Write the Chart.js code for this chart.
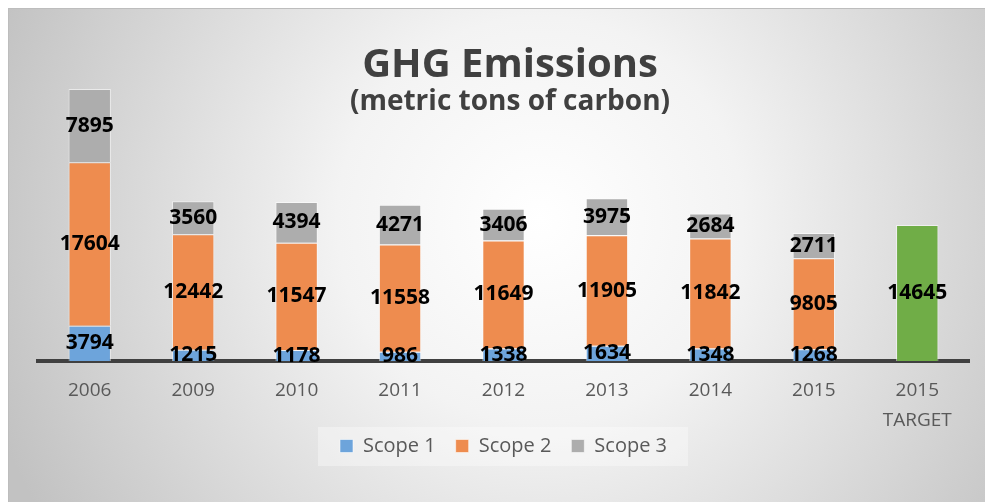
<!DOCTYPE html>
<html>
<head>
<meta charset="utf-8">
<script src="https://cdn.jsdelivr.net/npm/chart.js@4.4.0/dist/chart.umd.min.js"></script>
<style>
  html, body { margin: 0; padding: 0; background: #ffffff; }
  #wrap { position: relative; width: 985px; height: 502px; }
  #ghg { display: block; }
  .ttl {
    position: absolute; left: 10px; width: 1000px; text-align: center;
    font-family: 'Open Sans', sans-serif; font-weight: bold; color: #404040;
    pointer-events: none; white-space: nowrap;
  }
  #mainTitle { top: 34px; font-size: 40px; line-height: 56px; }
  #subTitle { top: 81px; font-size: 28px; line-height: 36px; }
</style>
</head>
<body>
<div id="wrap">
  <canvas id="ghg" width="985" height="502"></canvas>
  <div class="ttl" id="mainTitle">GHG Emissions</div>
  <div class="ttl" id="subTitle">(metric tons of carbon)</div>
</div>
<script>
// === Data ===
const years = ['2006', '2009', '2010', '2011', '2012', '2013', '2014', '2015', ['2015', 'TARGET']];
const scope1 = [3794, 1215, 1178, 986, 1338, 1634, 1348, 1268, null];
const scope2 = [17604, 12442, 11547, 11558, 11649, 11905, 11842, 9805, null];
const scope3 = [7895, 3560, 4394, 4271, 3406, 3975, 2684, 2711, null];
const target = [null, null, null, null, null, null, null, null, 14645];

// gradient backdrop + faint legend panel
const backdrop = {
  id: 'backdrop',
  afterLayout(chart) {
    // pull the legend up a bit so it sits right under the two-line tick
    const lg = chart.legend;
    if (lg) { lg.top -= 19; lg.bottom -= 19; }
  },
  beforeDraw(chart) {
    const ctx = chart.ctx;
    ctx.save();
    const g = ctx.createRadialGradient(540, 220, 0, 540, 220, 580);
    g.addColorStop(0, '#ffffff');
    g.addColorStop(0.35, '#f3f3f3');
    g.addColorStop(1, '#c2c2c2');
    ctx.fillStyle = g;
    ctx.fillRect(8, 8, chart.width - 8, chart.height - 8);
    ctx.strokeStyle = '#bdbdbd';
    ctx.lineWidth = 1;
    ctx.strokeRect(8.5, 8.5, chart.width - 8, chart.height - 8);
    ctx.fillStyle = 'rgba(255,255,255,0.35)';
    ctx.fillRect(318, 427, 370, 39);
    ctx.restore();
  }
};

// values centred in each segment
const segLabels = {
  id: 'segLabels',
  afterDatasetsDraw(chart) {
    const ctx = chart.ctx;
    ctx.save();
    ctx.font = 'bold 21px "Open Sans", sans-serif';
    ctx.fillStyle = '#000000';
    ctx.textAlign = 'center';
    ctx.textBaseline = 'middle';
    chart.data.datasets.forEach((ds, i) => {
      const meta = chart.getDatasetMeta(i);
      meta.data.forEach((bar, j) => {
        const v = ds.data[j];
        if (v == null) return;
        const c = bar.getCenterPoint();
        ctx.fillText(String(v), c.x, c.y);
      });
    });
    ctx.restore();
  }
};

new Chart(document.getElementById('ghg'), {
  type: 'bar',
  data: {
    labels: years,
    datasets: [
      { label: 'Scope 1', data: scope1, backgroundColor: '#6DA4DB' },
      { label: 'Scope 2', data: scope2, backgroundColor: '#EE8C4F' },
      { label: 'Scope 3', data: scope3, backgroundColor: '#ADADAD' },
      { label: 'Target', data: target, backgroundColor: '#70AD47' }
    ].map(d => Object.assign(d, {
      stack: 'all',
      borderColor: 'rgba(255,255,255,0.55)',
      borderWidth: 1,
      categoryPercentage: 1,
      barPercentage: 0.41
    }))
  },
  options: {
    responsive: false,
    animation: false,
    layout: { padding: { top: 36, left: 38, right: 16, bottom: 17 } },
    plugins: {
      title: { display: false },
      tooltip: { enabled: false },
      legend: {
        position: 'bottom',
        labels: {
          filter: item => item.text !== 'Target',
          boxWidth: 13,
          boxHeight: 13,
          padding: 20,
          color: '#595959',
          font: { family: 'Open Sans', size: 20 }
        }
      }
    },
    scales: {
      x: {
        stacked: true,
        grid: { display: false, drawTicks: false },
        border: { display: true, color: '#404040', width: 4 },
        ticks: {
          color: '#595959',
          padding: 15,
          font: { family: 'Open Sans', size: 19, lineHeight: 1.55 }
        },
        afterFit(scale) { scale.height = 74; }
      },
      y: {
        stacked: true,
        display: false,
        min: 0,
        max: 35000
      }
    }
  },
  plugins: [backdrop, segLabels]
});
</script>
</body>
</html>
